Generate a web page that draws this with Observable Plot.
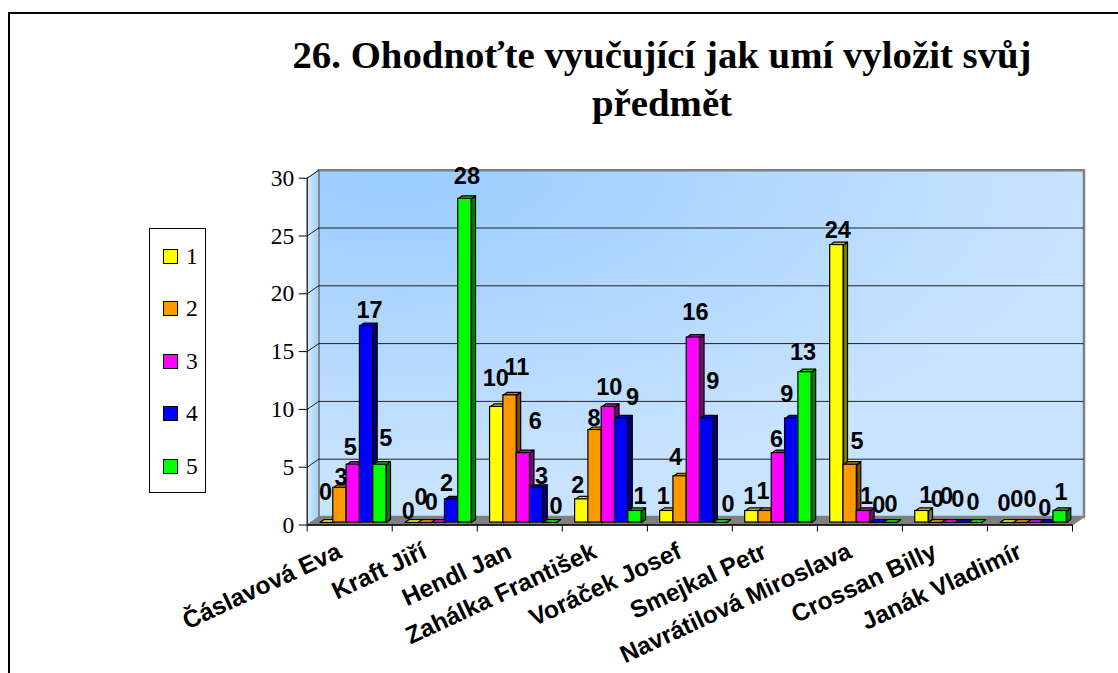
<!DOCTYPE html>
<html><head><meta charset="utf-8">
<script src="https://cdn.jsdelivr.net/npm/d3@7"></script>
<script src="https://cdn.jsdelivr.net/npm/@observablehq/plot@0.6"></script>
<style>
html,body{margin:0;padding:0;background:#fff;width:1118px;height:673px;overflow:hidden}
#frame{position:absolute;left:8px;top:12px;right:0;bottom:0;border-top:2px solid #000;border-left:2px solid #000}
#title{position:absolute;left:262px;width:800px;top:31px;text-align:center;font:bold 38.8px/48px "Liberation Serif",serif;color:#000}
#legend{position:absolute;left:149px;top:228px;width:55px;height:263px;border:1px solid #000;background:#fff;font:23.5px "Liberation Serif",serif}
#legend div{position:absolute;left:13px;display:flex;align-items:center;height:24px}
#legend i{display:block;width:13px;height:13px;border:1px solid #000;margin-right:8px}
#chart{position:absolute;left:0;top:0}
</style></head><body>
<div id="chart"></div>
<div id="frame"></div>
<div id="title">26. Ohodnoťte vyučující jak umí vyložit svůj<br>předmět</div>
<div id="legend"></div>
<script>
const categories = ["Čáslavová Eva","Kraft Jiří","Hendl Jan","Zahálka František","Voráček Josef","Smejkal Petr","Navrátilová Miroslava","Crossan Billy","Janák Vladimír"];
const seriesNames = ["1","2","3","4","5"];
const series1 = [0,0,10,2,1,1,24,1,0];
const series2 = [3,0,11,8,4,1,5,0,0];
const series3 = [5,0,6,10,16,6,1,0,0];
const series4 = [17,2,3,9,9,9,0,0,0];
const series5 = [5,28,0,1,0,13,0,0,1];
const yTicks = [0,5,10,15,20,25,30];

const frontColors = ["#ffff00","#ff9900","#ff00ff","#0000ff","#00ff00"];
const topColors   = ["#cccc00","#cc7a00","#cc00cc","#0000cc","#00cc00"];
const sideColors  = ["#808000","#804d00","#800080","#000080","#008000"];

// hand placement of each data label relative to its bar, per category then series
const labelDx = [[-1,1,-3,3,6],[-3.5,-4,-7,-5,2],[-1,7,12,5,6],[-4,-1,1,11,5],[-3.5,-4.5,2,6,8],[-2,-2,-2,-5,-2],[1,7,3,2,1],[4,2,-2,-4,-2],[-3,-3.5,-3.5,-2,1]];
const labelDy = [[-30,-10,-17,-16,-26],[-11,-25,-20,-16,-22],[-28,-27.5,-32,-11,-16],[-14,-11.5,-19,-20.5,-14],[-14,-19,-25.5,-36.5,-18],[-14,-19,-14,-24,-19.5],[-15,-23,-14.5,-17,-17.7],[-15.5,-22.7,-26,-22.7,-20.3],[-18.7,-22.7,-22.7,-14.3,-18.8]];

const allSeries = [series1,series2,series3,series4,series5];
const W = 1118, H = 673, left = 306.7, right = 1072, top0 = 177.7, bottom = 524.5;
const unitX = (right-left)/categories.length, unitY = (bottom-top0)/30;
const wallX = 11.5/unitX, wallY = 8/unitY;       // depth of the chart box, in data units
const barX = 4/unitX, barY = 3/unitY;            // depth of a bar, in data units
const barW = 13.3/unitX, barStart = 12.8/unitX, barLift = -2.5;

const bars = categories.flatMap((c,i)=>allSeries.map((s,j)=>{
  const x1 = i+barStart+j*barW;
  return {c,i,j,value:s[i],x1,x2:x1+barW};
}));
const poly = (id,fill,pts)=>pts.map(([x,y])=>({id,fill,x,y}));
const faces = bars.flatMap(b=>[
  ...poly(`s${b.i}-${b.j}`,sideColors[b.j],[[b.x2,0],[b.x2+barX,barY],[b.x2+barX,b.value+barY],[b.x2,b.value],[b.x2,0]]),
  ...poly(`t${b.i}-${b.j}`,topColors[b.j],[[b.x1,b.value],[b.x1+barX,b.value+barY],[b.x2+barX,b.value+barY],[b.x2,b.value],[b.x1,b.value]])
]);
const n = categories.length;
const back = poly("back","url(#wall)",[[wallX,wallY],[n+wallX,wallY],[n+wallX,30+wallY],[wallX,30+wallY],[wallX,wallY]]);
const side = poly("side","url(#sidewall)",[[0,0],[wallX,wallY],[wallX,30+wallY],[0,30],[0,0]]);
const floor = poly("floor","#808080",[[0,0],[n,0],[n+wallX,wallY],[wallX,wallY],[0,0]]);
const connectors = yTicks.filter(t=>t>0).flatMap(t=>[{t,x:0,y:t},{t,x:wallX,y:t+wallY}]);

const plot = Plot.plot({
  width:W,height:H,
  marginLeft:left,marginRight:W-right,marginTop:top0,marginBottom:H-bottom,
  x:{type:"linear",domain:[0,n]},
  y:{type:"linear",domain:[0,30]},
  marks:[
    Plot.line(back,{x:"x",y:"y",z:"id",fill:"url(#wall)",stroke:"#808080",strokeWidth:2.5}),
    Plot.line(side,{x:"x",y:"y",z:"id",fill:"url(#sidewall)",stroke:"#808080",strokeWidth:1}),
    Plot.ruleY(yTicks.filter(t=>t>0&&t<30),{y:d=>d+wallY,x1:wallX,x2:n+wallX,stroke:"#222",strokeWidth:1}),
    Plot.line(connectors,{x:"x",y:"y",z:"t",stroke:"#222",strokeWidth:1}),
    Plot.line(floor,{x:"x",y:"y",z:"id",fill:"#808080",stroke:"#808080",strokeWidth:1}),
    Plot.line(faces,{x:"x",y:"y",z:"id",fill:"fill",stroke:"#000",strokeWidth:1.2,dy:barLift}),
    Plot.rect(bars,{x1:"x1",x2:"x2",y1:0,y2:"value",fill:d=>frontColors[d.j],stroke:"#000",strokeWidth:1.2,dy:barLift}),
    Plot.ruleX([0],{stroke:"#000"}),
    Plot.ruleY([0],{stroke:"#000",strokeWidth:1.5}),
    Plot.axisY({ticks:yTicks,label:null,tickSize:8,tickPadding:5,fontSize:23.5,fontFamily:"Liberation Serif",color:"#000",stroke:"#000"}),
    Plot.axisX({ticks:d3.range(0,n+1),label:null,tickSize:7,tickFormat:()=>"",stroke:"#000"}),
    Plot.text(categories,{x:(d,i)=>i+0.5,y:0,text:d=>d,rotate:-25,textAnchor:"end",lineAnchor:"middle",dx:-10,dy:25,fontFamily:"Liberation Sans",fontWeight:"bold",fontSize:24.5,fill:"#000"}),
    ...bars.map(b=>Plot.text([b],{x:d=>(d.x1+d.x2)/2,y:"value",text:d=>String(d.value),dx:labelDx[b.i][b.j],dy:labelDy[b.i][b.j]+barLift,lineAnchor:"middle",fontFamily:"Liberation Sans",fontWeight:"bold",fontSize:23.5,fill:"#000"}))
  ]
});
const defs = d3.select(plot).insert("defs",":first-child");
const wall = defs.append("radialGradient").attr("id","wall").attr("cx",0.1).attr("cy",0).attr("r",0.9);
wall.append("stop").attr("offset",0).attr("stop-color","#99ccff");
wall.append("stop").attr("offset",1).attr("stop-color","#c8e3ff");
const sw = defs.append("linearGradient").attr("id","sidewall").attr("x1",1).attr("x2",0).attr("y1",0).attr("y2",0);
sw.append("stop").attr("offset",0).attr("stop-color","#9fcfff");
sw.append("stop").attr("offset",1).attr("stop-color","#d8ecff");
document.getElementById("chart").append(plot);

const legend = d3.select("#legend");
seriesNames.forEach((s,j)=>{
  const row = legend.append("div").style("top",(15+j*52.5)+"px");
  row.append("i").style("background",frontColors[j]);
  row.append("span").text(s);
});
</script>
</body></html>
